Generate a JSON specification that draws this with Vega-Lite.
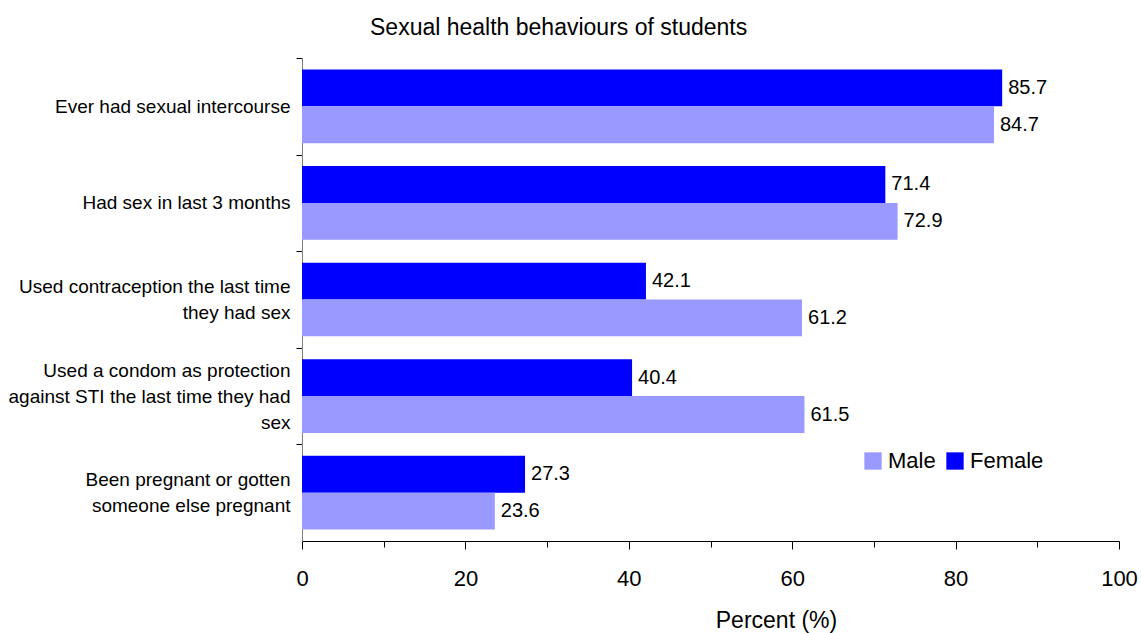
{
  "$schema": "https://vega.github.io/schema/vega-lite/v6.json",
  "autosize": "none",
  "width": 817,
  "height": 483,
  "padding": {"left": 302, "top": 58, "right": 22, "bottom": 92},
  "background": "white",
  "config": {"view": {"stroke": null}, "font": "Liberation Sans"},
  "title": {"text": "Sexual health behaviours of students", "anchor": "start", "frame": "group", "dx": 68, "fontSize": 23, "fontWeight": "normal", "font": "Liberation Sans", "color": "black", "offset": 18},
  "data": {"values": [
    {"q": "Ever had sexual intercourse", "g": "Female", "v": 85.7},
    {"q": "Ever had sexual intercourse", "g": "Male", "v": 84.7},
    {"q": "Had sex in last 3 months", "g": "Female", "v": 71.4},
    {"q": "Had sex in last 3 months", "g": "Male", "v": 72.9},
    {"q": "Used contraception the last time|they had sex", "g": "Female", "v": 42.1},
    {"q": "Used contraception the last time|they had sex", "g": "Male", "v": 61.2},
    {"q": "Used a condom as protection|against STI the last time they had|sex", "g": "Female", "v": 40.4},
    {"q": "Used a condom as protection|against STI the last time they had|sex", "g": "Male", "v": 61.5},
    {"q": "Been pregnant or gotten|someone else pregnant", "g": "Female", "v": 27.3},
    {"q": "Been pregnant or gotten|someone else pregnant", "g": "Male", "v": 23.6}
  ]},
  "encoding": {
    "y": {"field": "q", "type": "nominal", "sort": null,
      "scale": {"paddingInner": 0.237, "paddingOuter": 0.1185},
      "axis": {"title": null, "bandPosition": 0, "tickOffset": -11.45, "labelOffset": {"expr": "11.45 - (length(split(datum.value, '|')) - 1) * 13"}, "labelExpr": "split(datum.label, '|')", "labelFontSize": 19, "labelColor": "black", "labelLineHeight": 26, "labelPadding": 6, "labelLimit": 400, "domainColor": "#808080", "tickColor": "black", "tickSize": 6, "labelBaseline": "middle"}},
    "yOffset": {"field": "g", "type": "nominal", "sort": ["Female", "Male"]},
    "x": {"field": "v", "type": "quantitative",
      "scale": {"domain": [0, 100], "nice": false},
      "axis": {"title": "Percent (%)", "titleFontSize": 23, "titleFontWeight": "normal", "titleColor": "black", "titleX": 474, "titleY": 79, "titleBaseline": "middle", "titleAlign": "center", "values": [0,10,20,30,40,50,60,70,80,90,100], "labelExpr": "datum.value % 20 == 0 ? datum.label : ''", "labelFlush": false, "labelFontSize": 22, "labelColor": "black", "labelPadding": 19, "grid": false, "domainColor": "black", "tickColor": "black", "tickSize": {"expr": "datum.value % 20 == 0 ? 8 : 6"}}}
  },
  "layer": [
    {"mark": {"type": "bar"},
     "encoding": {"color": {"field": "g", "type": "nominal",
        "scale": {"domain": ["Male", "Female"], "range": ["#9999FF", "#0000FF"]},
        "legend": {"title": null, "orient": "none", "legendX": 560, "legendY": 392, "direction": "horizontal", "symbolType": "square", "symbolSize": 300, "symbolStrokeWidth": 0, "symbolOpacity": 1, "labelFontSize": 22, "labelColor": "black", "columnPadding": 8, "labelOffset": 4}}}},
    {"mark": {"type": "text", "align": "left", "dx": 6, "fontSize": 20, "color": "black"},
     "encoding": {"text": {"field": "v", "type": "quantitative", "format": ".1f"}}}
  ]
}
